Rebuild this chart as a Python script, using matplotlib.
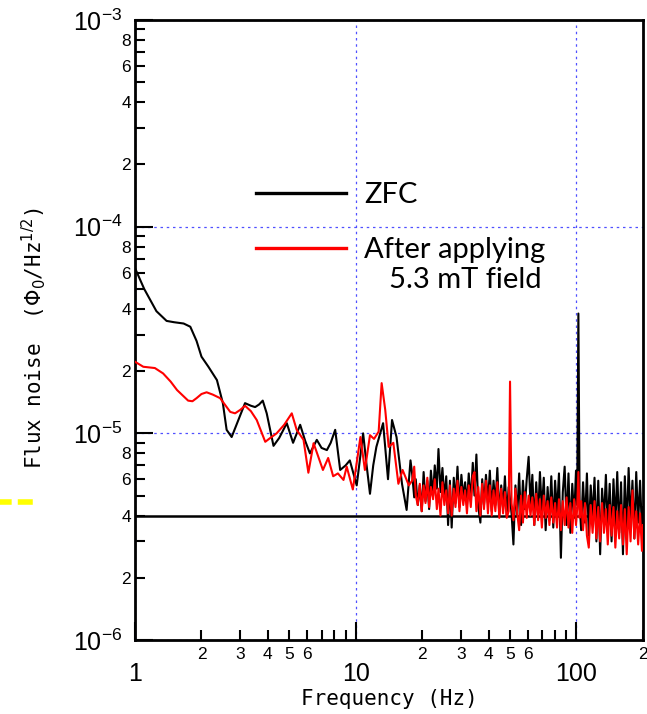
import numpy as np
import matplotlib.pyplot as plt
from matplotlib.lines import Line2D

plt.rcParams['font.family'] = ['Liberation Sans', 'DejaVu Sans']

# flux noise values in units of 1e-6 Phi0/Hz^(1/2)
# low-frequency part, ZFC (black)
zfc_low_freq = [1.0, 1.1, 1.25, 1.39, 1.5, 1.66, 1.78, 1.9, 2.0, 2.15, 2.35, 2.5,
                2.6, 2.74, 2.9, 3.15, 3.35, 3.5, 3.65, 3.79, 3.95, 4.24, 4.5, 4.87,
                5.2, 5.6, 5.9, 6.2, 6.66, 7.0, 7.4, 7.7, 8.07, 8.5, 9.0, 9.4, 10.1,
                10.8, 11.2, 11.6, 12.0, 12.4, 13.3, 14.0, 14.6, 15.3, 16.2, 17.0, 17.7]
zfc_low_val = [63, 50, 39, 35, 34.5, 34, 32.8, 28, 23.5, 21, 18.1, 14, 10.4, 9.6,
               11.2, 14, 13.6, 13.4, 13.8, 14.4, 12.5, 8.7, 9.5, 11.2, 9.0, 11.0, 9.2,
               8.0, 9.3, 8.5, 8.3, 9.0, 10.4, 6.65, 7.0, 7.4, 5.6, 10.0, 7.0, 5.1, 7.0,
               8.6, 11.2, 6.0, 11.6, 9.6, 5.7, 4.26, 7.4]

# low-frequency part, after applying 5.3 mT field (red)
fld_low_freq = [1.0, 1.09, 1.23, 1.34, 1.45, 1.55, 1.65, 1.74, 1.82, 1.9, 2.0, 2.11,
                2.25, 2.43, 2.7, 2.84, 3.0, 3.15, 3.35, 3.56, 3.89, 4.1, 4.38, 4.74,
                5.13, 5.4, 5.8, 6.1, 6.44, 7.1, 7.5, 7.9, 8.3, 8.8, 9.1, 9.7, 10.5,
                11.0, 11.6, 12.1, 12.7, 13.1, 13.6, 14.1, 14.8, 15.6, 16.3, 17.4]
fld_low_val = [22.2, 21, 20.7, 19.5, 17.8, 16.2, 15.2, 14.4, 14.3, 14.8, 15.5, 15.8,
               15.4, 14.8, 12.7, 12.5, 13.0, 13.6, 12.8, 11.6, 9.1, 9.5, 10.0, 11.0,
               12.5, 10.4, 9.3, 6.45, 8.96, 6.65, 7.6, 6.2, 6.4, 5.95, 6.9, 5.35, 9.6,
               6.65, 9.8, 9.4, 10.2, 17.5, 13.0, 8.6, 9.0, 5.7, 6.65, 5.6]

# high-frequency (noisy) part, shared frequency points
noise_freq = [18.0, 18.4, 18.7, 19.1, 19.5, 19.9, 20.3, 20.7, 21.1, 21.5,
              21.9, 22.4, 22.8, 23.3, 23.7, 24.2, 24.7, 25.2, 25.7, 26.2,
              26.7, 27.2, 27.8, 28.3, 28.9, 29.5, 30.1, 30.7, 31.3, 31.9,
              32.5, 33.2, 33.9, 34.5, 35.2, 35.9, 36.7, 37.4, 38.1, 38.9,
              39.7, 40.5, 41.3, 42.1, 42.9, 43.8, 44.7, 45.6, 46.5, 47.4,
              48.3, 49.3, 50.0, 50.8, 51.8, 52.9, 53.9, 55.0, 56.1, 57.2,
              58.3, 59.5, 60.7, 61.9, 63.1, 64.4, 65.7, 67.0, 68.3, 69.7,
              71.1, 72.5, 74.0, 75.4, 76.9, 78.5, 80.0, 81.6, 83.3, 85.0,
              86.7, 88.4, 90.2, 92.0, 93.8, 95.7, 97.6, 99.5, 100.7, 102.0,
              103.3, 105.0, 107.1, 109.3, 111.5, 113.7, 116.0, 118.3, 120.7, 123.1,
              125.5, 128.0, 130.6, 133.2, 135.9, 138.6, 141.4, 144.2, 147.1, 150.0,
              153.0, 156.1, 159.2, 162.4, 165.6, 168.9, 172.3, 175.8, 179.3, 182.9,
              186.5, 190.3, 194.1, 198.0, 200.0]
zfc_noise = [6.4, 4.9, 6.0, 4.5, 5.6, 4.2, 6.5, 4.7, 5.9, 4.3,
             6.6, 5.0, 7.0, 5.4, 8.4, 5.2, 6.8, 4.8, 6.2, 3.6,
             5.9, 3.5, 6.1, 4.6, 6.9, 4.4, 6.3, 4.9, 5.8, 4.5,
             6.4, 4.7, 7.2, 5.0, 7.9, 4.4, 3.7, 6.0, 4.5, 6.3,
             4.6, 6.6, 4.2, 5.9, 4.5, 6.8, 4.0, 5.6, 4.3, 6.2,
             4.0, 5.5, 4.8, 4.1, 2.9, 5.6, 4.0, 6.4, 3.6, 5.9,
             4.3, 6.0, 7.7, 4.5, 6.3, 3.6, 5.8, 3.9, 6.5, 4.2,
             6.1, 3.4, 5.5, 3.8, 6.2, 3.5, 5.9, 4.1, 6.4, 2.5,
             5.2, 6.9, 3.6, 6.4, 3.3, 5.7, 3.9, 6.6, 4.5, 38.0,
             4.6, 3.4, 5.8, 3.7, 6.4, 3.2, 5.6, 3.9, 6.1, 3.0,
             5.9, 2.6, 5.4, 3.8, 6.3, 3.5, 5.7, 3.0, 6.0, 3.6,
             6.5, 3.3, 5.8, 2.6, 6.2, 3.4, 6.8, 3.7, 5.9, 3.1,
             6.5, 3.7, 5.9, 3.4, 4.4]
fld_noise = [5.9, 6.9, 5.0, 4.5, 5.7, 4.2, 5.6, 4.6, 6.1, 4.4,
             5.5, 4.8, 6.0, 4.3, 5.4, 4.0, 5.8, 4.5, 5.3, 4.1,
             5.6, 4.0, 5.4, 4.4, 5.9, 4.2, 5.5, 4.5, 5.3, 4.1,
             5.6, 4.4, 6.2, 6.5, 4.2, 5.5, 4.0, 5.7, 4.3, 5.9,
             4.1, 5.6, 4.0, 5.3, 4.2, 5.8, 3.9, 5.4, 4.1, 5.2,
             3.9, 4.2, 17.8, 4.6, 3.8, 5.4, 4.1, 3.4, 5.0, 3.7,
             5.2, 3.9, 5.0, 4.0, 4.9, 3.6, 5.1, 3.8, 4.8, 3.5,
             5.0, 3.9, 4.7, 3.6, 4.9, 3.7, 4.6, 3.5, 4.8, 3.4,
             4.7, 3.6, 4.9, 3.5, 4.6, 3.3, 4.8, 3.6, 4.3, 6.5,
             3.9, 4.7, 3.4, 4.6, 3.2, 2.8, 4.5, 3.3, 4.7, 3.1,
             4.4, 3.0, 4.6, 3.3, 4.3, 2.9, 4.5, 3.2, 4.4, 2.8,
             4.2, 3.1, 4.5, 2.9, 4.3, 2.6, 4.4, 3.0, 5.3, 3.1,
             4.2, 2.9, 4.1, 2.7, 3.6]

zfc_freq = zfc_low_freq + noise_freq
zfc_flux = np.array(zfc_low_val + zfc_noise) * 1e-6
fld_freq = fld_low_freq + noise_freq
fld_flux = np.array(fld_low_val + fld_noise) * 1e-6

x_major = [1, 10, 100]
x_major_labels = ['1', '10', '100']
x_minor = [2, 3, 4, 5, 6, 7, 8, 9, 20, 30, 40, 50, 60, 70, 80, 90, 200]
x_minor_labels = ['2', '3', '4', '5', '6', '', '', '', '2', '3', '4', '5', '6', '', '', '', '2']
y_major = [1e-6, 1e-5, 1e-4, 1e-3]
y_major_labels = [r'$\mathregular{10^{-6}}$', r'$\mathregular{10^{-5}}$',
                  r'$\mathregular{10^{-4}}$', r'$\mathregular{10^{-3}}$']
y_minor = [m * d for d in (1e-6, 1e-5, 1e-4) for m in range(2, 10)]
y_minor_labels = [str(m) if m % 2 == 0 else '' for d in range(3) for m in range(2, 10)]
noise_floor = 4e-6

fig = plt.figure(figsize=(6.47, 7.14), dpi=100)
ax = fig.add_axes([0.2087, 0.1036, 0.785, 0.8684])

ax.plot(zfc_freq, zfc_flux, color='black', lw=1.5, zorder=3)
ax.plot(fld_freq, fld_flux, color='#ff0000', lw=1.5, zorder=4)
ax.axhline(noise_floor, color='black', lw=1.8, zorder=2)

ax.set_xscale('log')
ax.set_yscale('log')
ax.set_xlim(1, 200)
ax.set_ylim(1e-6, 1e-3)

ax.set_xticks(x_major)
ax.set_xticklabels(x_major_labels)
ax.set_xticks(x_minor, minor=True)
ax.set_xticklabels(x_minor_labels, minor=True)
ax.set_yticks(y_major)
ax.set_yticklabels(y_major_labels)
ax.set_yticks(y_minor, minor=True)
ax.set_yticklabels(y_minor_labels, minor=True)

ax.tick_params(which='both', direction='in', width=1.5, top=False, right=False)
ax.tick_params(which='major', length=13, labelsize=18)
ax.tick_params(which='minor', length=7, labelsize=12.5)
ax.tick_params(axis='x', which='major', pad=16)
ax.tick_params(axis='x', which='minor', pad=5)
ax.tick_params(axis='y', which='major', pad=9)
ax.tick_params(axis='y', which='minor', pad=3)

for s in ax.spines.values():
    s.set_linewidth(2)

ax.grid(True, which='major', color='#5050ff', linestyle=(0, (2, 3)), lw=0.9)

ax.set_xlabel('Frequency (Hz)', family=['DejaVu Sans Mono'], fontsize=15, labelpad=2)
ax.set_ylabel(r'Flux noise  ($\Phi_0$/Hz$^{1/2}$)', family=['DejaVu Sans Mono'],
              fontsize=15)
ax.yaxis.set_label_coords(-0.172, 0.487)

handles = [Line2D([], [], color='black', lw=2.4), Line2D([], [], color='#ff0000', lw=2.4)]
ax.legend(handles, ['ZFC', 'After applying'], loc='upper left',
          bbox_to_anchor=(0.238, 0.739), frameon=False, prop={'family': 'Lato', 'size': 21},
          handlelength=3.1, handletextpad=0.6, labelspacing=1.0, borderpad=0, borderaxespad=0)
ax.text(0.65, 0.58, '5.3 mT field', transform=ax.transAxes, ha='center', va='center',
        family='Lato', fontsize=21)

# yellow dashed marker at the left edge
fig.add_artist(Line2D([0, 36 / 647], [1 - 502 / 714] * 2, color='#ffff00', lw=4,
                      linestyle=(0.6, (2.7, 1.1))))

fig.savefig('out.png', dpi=100)
